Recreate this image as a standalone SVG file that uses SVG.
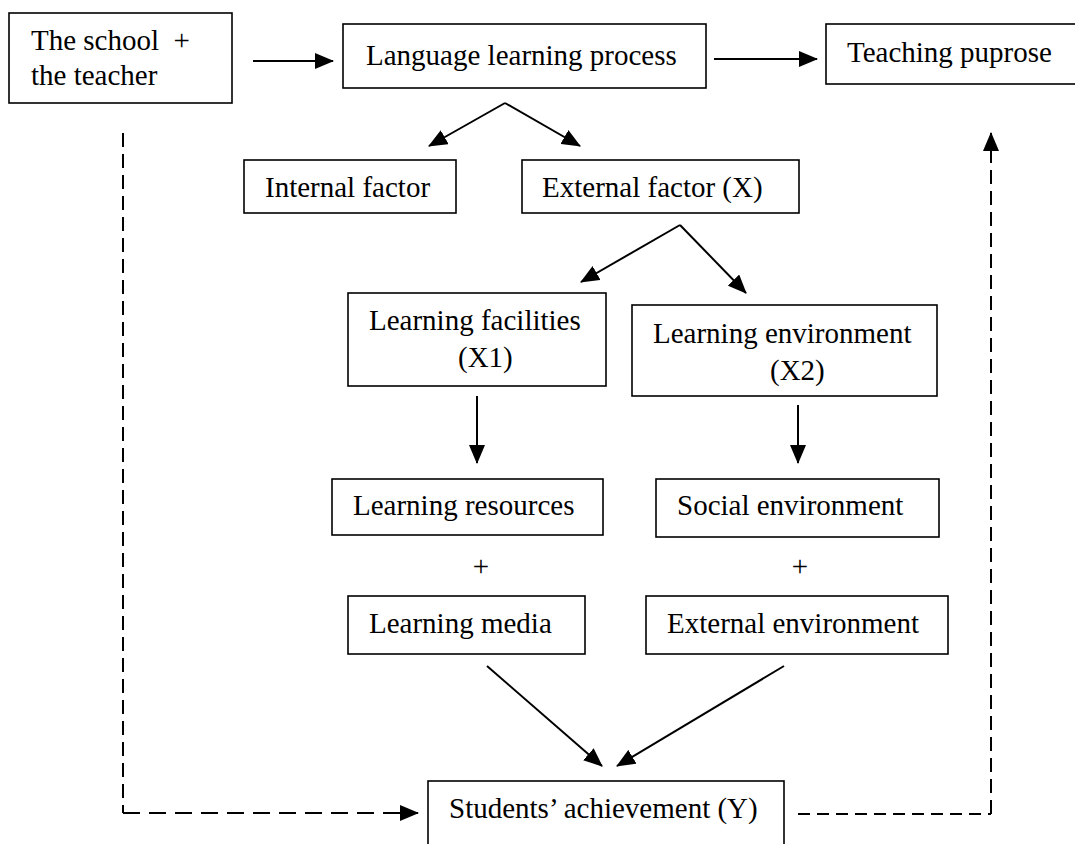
<svg xmlns="http://www.w3.org/2000/svg" width="1075" height="844" viewBox="0 0 1075 844">
<style>
  .box { fill: #fff; stroke: #000; stroke-width: 1.6; }
  .t { font-family: "Liberation Serif", "Times New Roman", serif; font-size: 29px; fill: #000; white-space: pre; }
  .c { fill: none; stroke: #000; stroke-width: 2; }
  .d1 { fill: none; stroke: #000; stroke-width: 2; stroke-dasharray: 14 7; }
  .d2 { fill: none; stroke: #000; stroke-width: 2; stroke-dasharray: 17 9; }
  .d3 { fill: none; stroke: #000; stroke-width: 1.8; stroke-dasharray: 12 7; }
</style>
<defs>
  <marker id="ah" markerUnits="userSpaceOnUse" markerWidth="19" markerHeight="16" viewBox="0 0 19 16" refX="18" refY="8" orient="auto">
    <path d="M0,0 L19,8 L0,16 z" fill="#000"/>
  </marker>
</defs>
<rect width="1075" height="844" fill="#fff"/>

<g id="connectors">
  <line class="c" x1="253" y1="61" x2="333" y2="61" marker-end="url(#ah)"/>
  <line class="c" x1="714" y1="59" x2="817" y2="59" marker-end="url(#ah)"/>
  <line class="c" x1="505" y1="103" x2="429" y2="146" marker-end="url(#ah)"/>
  <line class="c" x1="505" y1="103" x2="580" y2="146" marker-end="url(#ah)"/>
  <line class="c" x1="680" y1="225" x2="581" y2="282" marker-end="url(#ah)"/>
  <line class="c" x1="680" y1="225" x2="746" y2="293" marker-end="url(#ah)"/>
  <line class="c" x1="477" y1="396" x2="477" y2="463" marker-end="url(#ah)"/>
  <line class="c" x1="798" y1="405" x2="798" y2="463" marker-end="url(#ah)"/>
  <line class="c" x1="487" y1="666" x2="602" y2="766" marker-end="url(#ah)"/>
  <line class="c" x1="784" y1="666" x2="617" y2="766" marker-end="url(#ah)"/>
  <line class="d1" x1="123" y1="133" x2="123" y2="813"/>
  <line class="d2" x1="123" y1="813" x2="418" y2="813" marker-end="url(#ah)"/>
  <line class="d3" x1="798" y1="814" x2="991" y2="814"/>
  <line class="d1" x1="991" y1="814" x2="991" y2="133" marker-end="url(#ah)"/>
</g>

<g id="school"><rect class="box" x="9" y="13" width="223" height="90"/>
  <text class="t" x="31" y="50" xml:space="preserve">The school  +</text>
  <text class="t" x="31" y="85">the teacher</text></g>
<g id="language"><rect class="box" x="343" y="24" width="363" height="64"/>
  <text class="t" x="366" y="65">Language learning process</text></g>
<g id="teaching"><rect class="box" x="826" y="24" width="260" height="60"/>
  <text class="t" x="847" y="62">Teaching puprose</text></g>
<g id="internal"><rect class="box" x="244" y="160" width="212" height="53"/>
  <text class="t" x="265" y="197">Internal factor</text></g>
<g id="external"><rect class="box" x="522" y="160" width="277" height="53"/>
  <text class="t" x="542" y="197">External factor (X)</text></g>
<g id="facilities"><rect class="box" x="348" y="293" width="258" height="93"/>
  <text class="t" x="369" y="330">Learning facilities</text>
  <text class="t" x="458" y="367">(X1)</text></g>
<g id="environment"><rect class="box" x="632" y="305" width="305" height="91"/>
  <text class="t" x="653" y="343">Learning environment</text>
  <text class="t" x="770" y="380">(X2)</text></g>
<g id="resources"><rect class="box" x="332" y="479" width="271" height="56"/>
  <text class="t" x="353" y="515">Learning resources</text></g>
<g id="social"><rect class="box" x="656" y="479" width="283" height="58"/>
  <text class="t" x="677" y="515">Social environment</text></g>
<g id="plus1"><text class="t" x="481" y="576" text-anchor="middle">+</text></g>
<g id="plus2"><text class="t" x="800" y="576" text-anchor="middle">+</text></g>
<g id="media"><rect class="box" x="348" y="596" width="237" height="58"/>
  <text class="t" x="369" y="633">Learning media</text></g>
<g id="extenv"><rect class="box" x="646" y="596" width="302" height="58"/>
  <text class="t" x="667" y="633">External environment</text></g>
<g id="students"><rect class="box" x="428" y="781" width="356" height="80"/>
  <text class="t" x="449" y="818">Students’ achievement (Y)</text></g>
</svg>
